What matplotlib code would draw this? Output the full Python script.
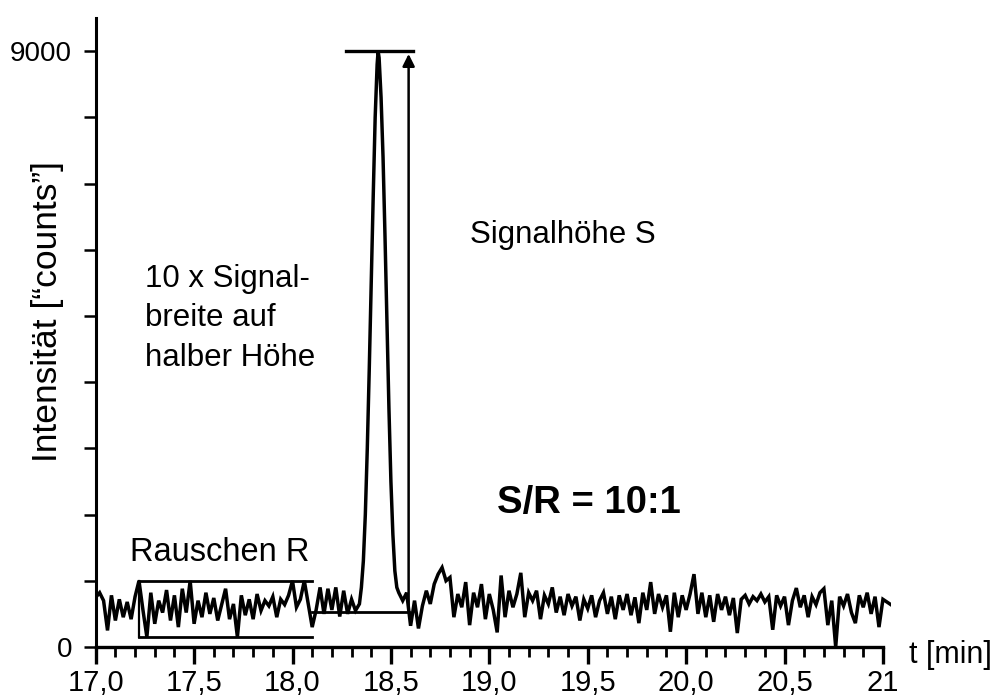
import numpy as np
import matplotlib
matplotlib.use('Agg')
import matplotlib.pyplot as plt

plt.rcParams['font.family'] = ['Liberation Sans', 'DejaVu Sans']

# chromatogram trace (counts)
# baseline noise before the peak, 0.02 min steps from 17.00 to 18.32
noise_pre = [750, 820, 700, 250, 780, 400, 720, 450, 680, 420,
             760, 1000, 560, 150, 820, 350, 700, 520, 860, 400,
             780, 300, 880, 520, 1000, 350, 700, 450, 820, 500,
             740, 400, 640, 880, 420, 650, 150, 780, 480, 720,
             420, 800, 550, 700, 620, 760, 450, 720, 640, 780,
             1000, 600, 720, 1000, 650, 300, 560, 900, 500, 880,
             560, 900, 460, 850, 500, 720, 550]
# the signal peak
peak_t = [18.34, 18.35, 18.36, 18.37, 18.38, 18.39, 18.40, 18.41, 18.42, 18.43, 18.435,
          18.44, 18.45, 18.46, 18.47, 18.48, 18.49, 18.50, 18.51, 18.52, 18.53, 18.54]
peak_y = [650, 900, 1300, 2000, 3000, 4200, 5500, 6800, 8000, 8800, 9000,
          8900, 8300, 7400, 6200, 4900, 3600, 2500, 1700, 1150, 900, 820]
# baseline noise after the peak, 0.02 min steps from 18.56 to 21.04
noise_post = [700, 820, 320, 700, 280, 620, 850, 650, 950, 1100,
              1200, 1000, 1050, 450, 800, 600, 980, 330, 820, 600,
              950, 420, 800, 560, 220, 1080, 450, 850, 600, 800,
              1120, 450, 820, 700, 850, 420, 780, 650, 900, 520,
              760, 480, 800, 620, 760, 400, 720, 580, 780, 450,
              700, 820, 500, 760, 420, 780, 560, 800, 480, 750,
              360, 820, 560, 980, 500, 800, 600, 780, 230, 820,
              450, 780, 560, 800, 1100, 500, 820, 450, 780, 380,
              800, 560, 760, 480, 740, 210, 720, 780, 650, 760,
              700, 800, 680, 760, 260, 780, 620, 760, 330, 700,
              890, 600, 780, 450, 760, 640, 820, 880, 330, 700,
              0, 760, 620, 800, 520, 360, 780, 600, 820, 500,
              760, 300, 720, 680, 640]

t_pre = 17.00 + 0.02 * np.arange(len(noise_pre))
t_post = 18.56 + 0.02 * np.arange(len(noise_post))
t = np.concatenate([t_pre, peak_t, t_post])
y = np.concatenate([noise_pre, peak_y, noise_post])

x_major = [17.0, 17.5, 18.0, 18.5, 19.0, 19.5, 20.0, 20.5, 21.0]
x_labels = ['17,0', '17,5', '18,0', '18,5', '19,0', '19,5', '20,0', '20,5', '21']
y_ticks = [0, 1000, 2000, 3000, 4000, 5000, 6000, 7000, 8000, 9000]
y_labels = ['0', '', '', '', '', '', '', '', '', '9000']

# construction lines
noise_box = (17.22, 18.10, 150, 1000)   # t0, t1, low, high
baseline_level = 530
peak_height = 9000
arrow_t = 18.59

fig = plt.figure(figsize=(10, 6.98), dpi=100)
ax = fig.add_axes([0.0957, 0.0731, 0.7951, 0.901])

ax.plot(t, y, color='black', lw=2.5, solid_joinstyle='miter')

# noise band R
t0, t1, lo, hi = noise_box
ax.plot([t0, t1], [hi, hi], color='black', lw=2)
ax.plot([t0, t1], [lo, lo], color='black', lw=2)
ax.plot([t0, t0], [lo, hi], color='black', lw=1.6)
# baseline + signal height
ax.plot([t1, arrow_t], [baseline_level, baseline_level], color='black', lw=2)
ax.plot([18.27, 18.61], [peak_height, peak_height], color='black', lw=2.4)
ax.annotate('', xy=(arrow_t, peak_height), xytext=(arrow_t, baseline_level),
            arrowprops=dict(arrowstyle='-|>', lw=1.8, color='black', mutation_scale=18))

ax.set_xlim(17.0, 21.04)
ax.set_ylim(0, 9500)
ax.spines['top'].set_visible(False)
ax.spines['right'].set_visible(False)
ax.spines['bottom'].set_bounds(17.0, 21.0)
ax.spines['left'].set_linewidth(2.2)
ax.spines['bottom'].set_linewidth(2.4)

ax.set_xticks(x_major)
ax.set_xticklabels(x_labels)
ax.set_xticks(np.arange(17.0, 21.01, 0.1), minor=True)
ax.set_yticks(y_ticks)
ax.set_yticklabels(y_labels)
ax.tick_params(axis='x', which='major', length=12, width=2.4, pad=4, labelsize=21)
ax.tick_params(axis='x', which='minor', length=7, width=2)
ax.tick_params(axis='y', length=9, width=1.8, pad=8, labelsize=20)

ax.text(18.90, 6100, 'Signalhöhe S', fontsize=22.5)
ax.text(17.25, 4250, '10 x Signal-\nbreite auf\nhalber Höhe', fontsize=22.5, va='baseline',
        linespacing=1.4)
ax.text(17.175, 1300, 'Rauschen R', fontsize=23.5)
ax.text(19.04, 2020, 'S/R = 10:1', fontsize=27.5, fontweight='bold')
ax.text(21.13, -120, 't [min]', fontsize=22, va='center', clip_on=False)
fig.text(0.048, 1 - 312 / 698, 'Intensität [“counts”]', rotation=90,
         fontsize=25.5, ha='center', va='center')

fig.savefig('out.png', dpi=100)
